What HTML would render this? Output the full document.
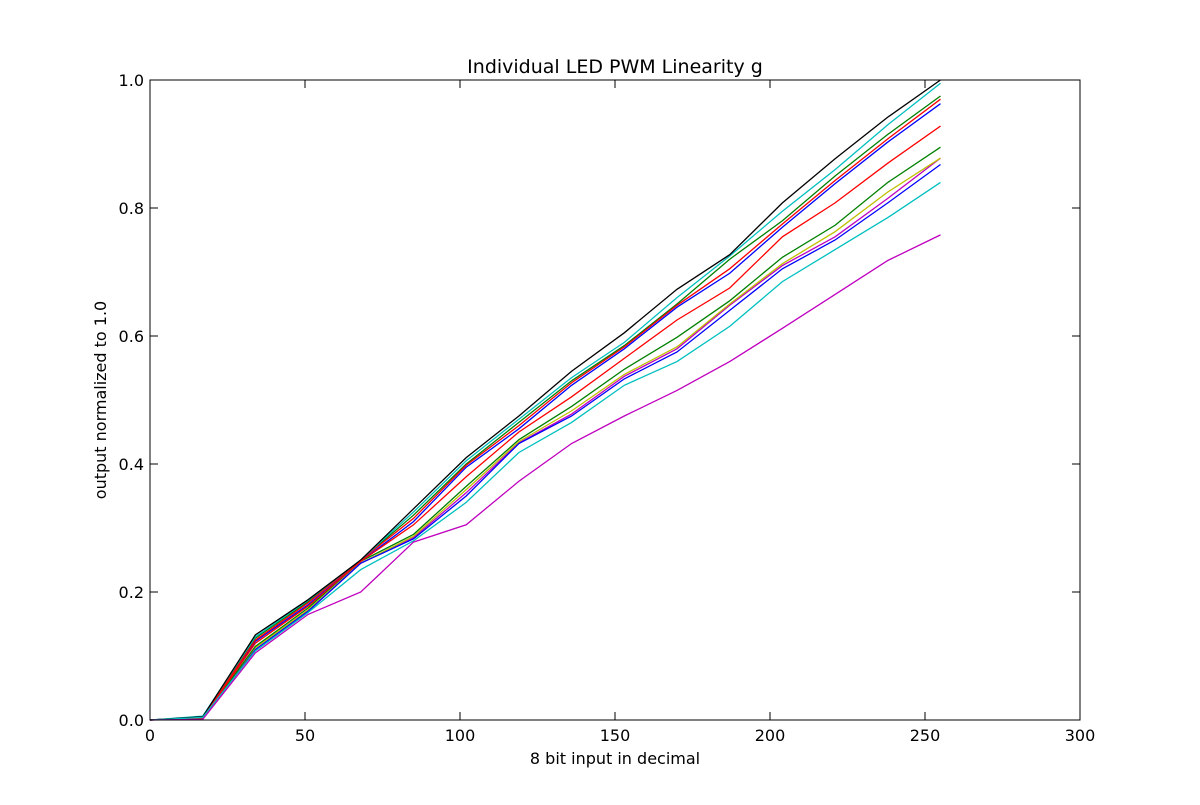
<!DOCTYPE html>
<html><head><meta charset="utf-8"><style>
body{margin:0;background:#fff;font-family:"Liberation Sans","DejaVu Sans",sans-serif}
svg text{font-family:"DejaVu Sans","Liberation Sans",sans-serif;font-size:16px}
</style></head><body>
<svg id="chart" width="1200" height="800" xmlns="http://www.w3.org/2000/svg">
<rect width="1200" height="800" fill="#fff"/>
<text x="615" y="73" text-anchor="middle" style="font-size:19px">Individual LED PWM Linearity g</text>
<text x="615" y="764" text-anchor="middle">8 bit input in decimal</text>
<text transform="translate(106,400) rotate(-90)" text-anchor="middle">output normalized to 1.0</text>
<g id="ticks"></g>
<g id="lines"></g>
<rect x="150" y="80" width="930" height="640" fill="none" stroke="#000" stroke-width="1"/>
</svg>
<script>
const xs = [0,17,34,51,68,85,102,119,136,153,170,187,204,221,238,255];
const xTicks = [0,50,100,150,200,250,300];
const yTicks = [0.0,0.2,0.4,0.6,0.8,1.0];
const colors = ['#0000ff','#008000','#ff0000','#00bfbf','#bf00bf','#bfbf00','#000000','#0000ff','#008000','#ff0000','#00bfbf','#bf00bf'];
const s0 = [0,0.004,0.123,0.18,0.248,0.31,0.395,0.455,0.523,0.58,0.645,0.698,0.77,0.838,0.903,0.963];
const s1 = [0,0.005,0.128,0.185,0.25,0.32,0.4,0.465,0.53,0.585,0.65,0.72,0.78,0.85,0.915,0.975];
const s2 = [0,0.004,0.125,0.183,0.25,0.315,0.398,0.46,0.527,0.583,0.648,0.705,0.775,0.843,0.908,0.97];
const s3 = [0,0.006,0.13,0.187,0.25,0.325,0.405,0.47,0.535,0.59,0.66,0.725,0.795,0.86,0.93,0.995];
const s4 = [0,0.002,0.11,0.17,0.245,0.285,0.355,0.433,0.478,0.537,0.58,0.648,0.71,0.755,0.815,0.878];
const s5 = [0,0.003,0.113,0.172,0.245,0.287,0.36,0.435,0.483,0.54,0.583,0.65,0.713,0.763,0.825,0.878];
const s6 = [0,0.005,0.133,0.188,0.25,0.33,0.41,0.475,0.545,0.605,0.673,0.727,0.808,0.877,0.942,1.0];
const s7 = [0,0.002,0.11,0.17,0.245,0.283,0.35,0.432,0.475,0.533,0.575,0.64,0.705,0.75,0.808,0.868];
const s8 = [0,0.003,0.115,0.175,0.248,0.29,0.365,0.438,0.49,0.548,0.598,0.655,0.723,0.773,0.84,0.895];
const s9 = [0,0.003,0.12,0.178,0.248,0.305,0.38,0.45,0.505,0.565,0.625,0.675,0.755,0.808,0.87,0.928];
const s10 = [0,0.004,0.108,0.168,0.235,0.28,0.34,0.418,0.465,0.523,0.56,0.615,0.685,0.735,0.785,0.84];
const s11 = [0,0.001,0.105,0.165,0.2,0.278,0.305,0.373,0.432,0.475,0.515,0.56,0.612,0.665,0.718,0.758];
const series = [s0,s1,s2,s3,s4,s5,s6,s7,s8,s9,s10,s11];
const NS='http://www.w3.org/2000/svg';
const X = v => 150 + v/300*930;
const Y = v => 720 - v*640;
const tg=document.getElementById('ticks'), lg=document.getElementById('lines');
function mk(t,a){const e=document.createElementNS(NS,t);for(const k in a)e.setAttribute(k,a[k]);return e;}
xTicks.forEach(v=>{
  const x=X(v);
  tg.appendChild(mk('line',{x1:x,x2:x,y1:720,y2:712,stroke:'#000'}));
  tg.appendChild(mk('line',{x1:x,x2:x,y1:80,y2:88,stroke:'#000'}));
  const t=mk('text',{x:x,y:741,'text-anchor':'middle'});t.textContent=v;
  
  
  tg.appendChild(t);
});
yTicks.forEach(v=>{
  const y=Y(v);
  tg.appendChild(mk('line',{x1:150,x2:158,y1:y,y2:y,stroke:'#000'}));
  tg.appendChild(mk('line',{x1:1080,x2:1072,y1:y,y2:y,stroke:'#000'}));
  const t=mk('text',{x:144,y:y+6,'text-anchor':'end'});t.textContent=v.toFixed(1);
  
  
  tg.appendChild(t);
});
series.forEach((s,i)=>{
  const p=mk('polyline',{points:s.map((v,j)=>X(xs[j])+','+Y(v)).join(' '),fill:'none',stroke:colors[i],'stroke-width':1.3});
  
  
  lg.appendChild(p);
});
</script>
</body></html>
